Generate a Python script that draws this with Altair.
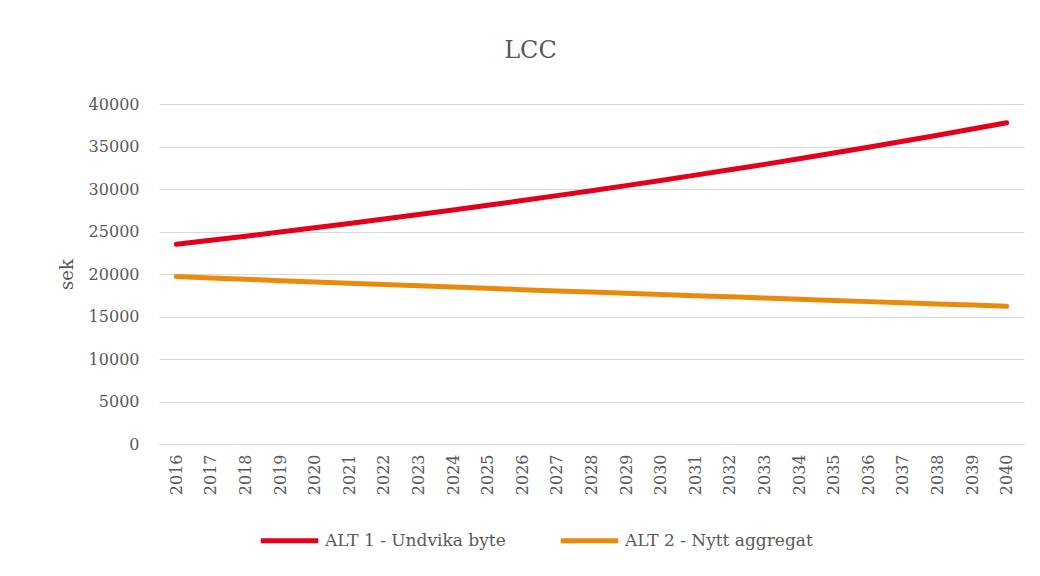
import altair as alt
import pandas as pd

years = [str(y) for y in range(2016, 2041)]
alt1 = [23500, 23970, 24450, 24940, 25440, 25950, 26460, 26990, 27530, 28080,
        28650, 29220, 29800, 30400, 31010, 31630, 32260, 32900, 33560, 34230,
        34920, 35620, 36330, 37060, 37800]
alt2 = [19700, 19540, 19380, 19220, 19060, 18910, 18760, 18610, 18460, 18310,
        18160, 18010, 17870, 17730, 17590, 17450, 17310, 17170, 17030, 16890,
        16750, 16610, 16470, 16340, 16200]
series_names = ["ALT 1 - Undvika byte", "ALT 2 - Nytt aggregat"]
colors = ["#e2001a", "#e98a0c"]

rows = []
for y, a, b in zip(years, alt1, alt2):
    rows.append({"year": y, "value": a, "series": series_names[0]})
    rows.append({"year": y, "value": b, "series": series_names[1]})
df = pd.DataFrame(rows)

FONT = "DejaVu Serif"
TXT = "#595959"

chart = alt.Chart(df).mark_line(strokeWidth=5, strokeCap="round").encode(
    x=alt.X("year:O", sort=years, title=None,
            scale=alt.Scale(type="point", padding=0.5),
            axis=alt.Axis(labelAngle=-90, labelFont=FONT, labelFontSize=16,
                          labelColor=TXT, labelPadding=10, ticks=False,
                          domain=True, domainColor="#d9d9d9", grid=False,
                          labelBaseline="middle", labelAlign="right")),
    y=alt.Y("value:Q", title="sek",
            scale=alt.Scale(domain=[0, 40000], nice=False),
            axis=alt.Axis(values=list(range(0, 40001, 5000)), format="d",
                          labelFont=FONT, labelFontSize=16, labelColor=TXT,
                          labelPadding=20, ticks=False, domain=False,
                          grid=True, gridColor="#d9d9d9", gridWidth=1,
                          titleFont=FONT, titleFontSize=18, titleColor=TXT,
                          titleFontWeight="normal", titlePadding=12)),
    color=alt.Color("series:N",
                    scale=alt.Scale(domain=series_names, range=colors),
                    legend=alt.Legend(title=None, orient="none", legendX=99,
                                      legendY=405, direction="horizontal",
                                      symbolType="stroke", symbolSize=3300,
                                      symbolStrokeWidth=5, labelFont=FONT,
                                      labelFontSize=17, labelColor=TXT,
                                      labelOffset=4, columnPadding=44,
                                      labelLimit=400)),
).properties(
    width=865, height=340,
    background="white",
    title=alt.TitleParams("LCC", font=FONT, fontSize=24, color=TXT,
                          fontWeight="normal", offset=33, dx=-61),
    autosize=alt.AutoSizeParams(type="none"),
    padding={"left": 151, "top": 96, "right": 8, "bottom": 124},
).configure_view(stroke=None)

chart.save("out.html", embed_options={"renderer": "svg", "actions": False})
